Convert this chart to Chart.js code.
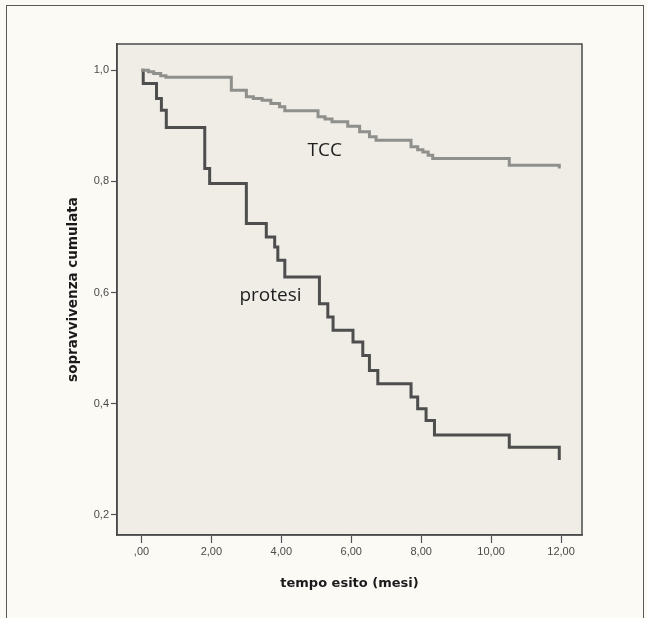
<!DOCTYPE html>
<html>
<head>
<meta charset="utf-8">
<script src="https://cdn.jsdelivr.net/npm/chart.js@4/dist/chart.umd.min.js"></script>
<style>
  html, body { margin: 0; padding: 0; background: #fbfaf5; }
  #wrap { position: relative; width: 647px; height: 618px; overflow: hidden; }
  #frame { position: absolute; left: 6px; top: 5px; width: 638px; height: 640px; border: 1.5px solid #5a5a5a; box-sizing: border-box; }
  canvas { position: absolute; left: 0; top: 0; }
</style>
</head>
<body>
<div id="wrap">
  <div id="frame"></div>
  <canvas id="c" width="647" height="618"></canvas>
</div>
<script>
// ---- data ----
const xTickValues = [0, 2, 4, 6, 8, 10, 12];
const xTickLabels = [",00", "2,00", "4,00", "6,00", "8,00", "10,00", "12,00"];
const yTickValues = [0.2, 0.4, 0.6, 0.8, 1.0];
const yTickLabels = ["0,2", "0,4", "0,6", "0,8", "1,0"];

const tccTimes = [0, 0.2, 0.35, 0.55, 0.7, 2.57, 3.0, 3.2, 3.45, 3.7, 3.95, 4.1, 5.05, 5.25, 5.45, 5.9, 6.24, 6.52, 6.71, 7.71, 7.9, 8.05, 8.2, 8.33, 10.52, 11.95];
const tccSurv  = [1.0, 0.997, 0.994, 0.99, 0.987, 0.964, 0.952, 0.949, 0.946, 0.94, 0.934, 0.927, 0.916, 0.912, 0.907, 0.899, 0.889, 0.880, 0.874, 0.862, 0.857, 0.853, 0.847, 0.841, 0.829, 0.823];

const protTimes = [0, 0.05, 0.43, 0.57, 0.71, 1.81, 1.95, 3.0, 3.57, 3.81, 3.9, 4.1, 5.09, 5.33, 5.48, 6.05, 6.33, 6.52, 6.76, 7.71, 7.9, 8.14, 8.38, 10.52, 11.95];
const protSurv  = [1.0, 0.976, 0.949, 0.928, 0.897, 0.823, 0.796, 0.724, 0.700, 0.682, 0.658, 0.628, 0.580, 0.556, 0.532, 0.511, 0.487, 0.460, 0.436, 0.412, 0.391, 0.370, 0.344, 0.322, 0.299];

const seriesNames = ["TCC", "protesi"];
const labelPositions = [[5.24, 0.856], [3.69, 0.595]];

const xTitle = "tempo esito (mesi)";
const yTitle = "sopravvivenza cumulata";

const toPts = (xs, ys) => xs.map((x, i) => ({ x: x, y: ys[i] }));

const plotDecor = {
  id: 'plotDecor',
  beforeDraw(chart) {
    const { ctx, chartArea: a } = chart;
    ctx.save();
    ctx.fillStyle = '#efede5';
    ctx.fillRect(a.left, a.top, a.right - a.left, a.bottom - a.top);
    ctx.restore();
  },
  afterDraw(chart) {
    const { ctx, chartArea: a, scales } = chart;
    ctx.save();
    ctx.strokeStyle = '#4a4a4a';
    ctx.lineWidth = 1.5;
    ctx.strokeRect(a.left, a.top, a.right - a.left, a.bottom - a.top);
    ctx.fillStyle = '#1e1e1e';
    ctx.font = '19px "Open Sans", sans-serif';
    ctx.textAlign = 'center';
    ctx.textBaseline = 'middle';
    seriesNames.forEach((n, i) => {
      const [vx, vy] = labelPositions[i];
      ctx.fillText(n, scales.x.getPixelForValue(vx), scales.y.getPixelForValue(vy));
    });
    ctx.restore();
  }
};

new Chart(document.getElementById('c'), {
  type: 'scatter',
  data: {
    datasets: [
      {
        label: seriesNames[0],
        data: toPts(tccTimes, tccSurv),
        showLine: true,
        stepped: true,
        borderColor: '#8f8f8c',
        borderWidth: 3,
        pointRadius: 0,
        fill: false
      },
      {
        label: seriesNames[1],
        data: toPts(protTimes, protSurv),
        showLine: true,
        stepped: true,
        borderColor: '#4e4e4e',
        borderWidth: 3,
        pointRadius: 0,
        fill: false
      }
    ]
  },
  options: {
    responsive: false,
    animation: false,
    devicePixelRatio: 1,
    layout: { padding: { left: 0, top: 44, right: 65, bottom: 0 } },
    plugins: { legend: { display: false }, tooltip: { enabled: false } },
    scales: {
      x: {
        type: 'linear',
        min: -0.7,
        max: 12.6,
        afterBuildTicks: (s) => { s.ticks = xTickValues.map(v => ({ value: v })); },
        afterFit: (s) => { s.height = 83; },
        ticks: {
          callback: (v) => { const i = xTickValues.indexOf(v); return i >= 0 ? xTickLabels[i] : ''; },
          color: '#4a4a4a',
          font: { family: '"Liberation Sans", Arial, sans-serif', size: 11 },
          padding: 2,
          maxRotation: 0
        },
        grid: { drawOnChartArea: false, tickLength: 8, tickColor: '#555', tickWidth: 1.2 },
        border: { display: true, color: '#4a4a4a', width: 1.5 },
        title: {
          display: true,
          text: xTitle,
          color: '#1a1a1a',
          font: { family: '"DejaVu Sans", sans-serif', size: 13, weight: 'bold' },
          padding: { top: 0, bottom: 27 }
        }
      },
      y: {
        type: 'linear',
        min: 0.164,
        max: 1.047,
        afterBuildTicks: (s) => { s.ticks = yTickValues.map(v => ({ value: v })); },
        afterFit: (s) => { s.width = 117; },
        ticks: {
          callback: (v) => { const i = yTickValues.findIndex(t => Math.abs(t - v) < 1e-9); return i >= 0 ? yTickLabels[i] : ''; },
          color: '#4a4a4a',
          font: { family: '"Liberation Sans", Arial, sans-serif', size: 11 },
          padding: 2
        },
        grid: { drawOnChartArea: false, tickLength: 6, tickColor: '#555', tickWidth: 1.2 },
        border: { display: true, color: '#4a4a4a', width: 1.5 },
        title: {
          display: true,
          text: yTitle,
          color: '#1a1a1a',
          font: { family: '"DejaVu Sans", sans-serif', size: 13.5, weight: 'bold' },
          padding: { top: 65, bottom: 0 }
        }
      }
    }
  },
  plugins: [plotDecor]
});
</script>
</body>
</html>
